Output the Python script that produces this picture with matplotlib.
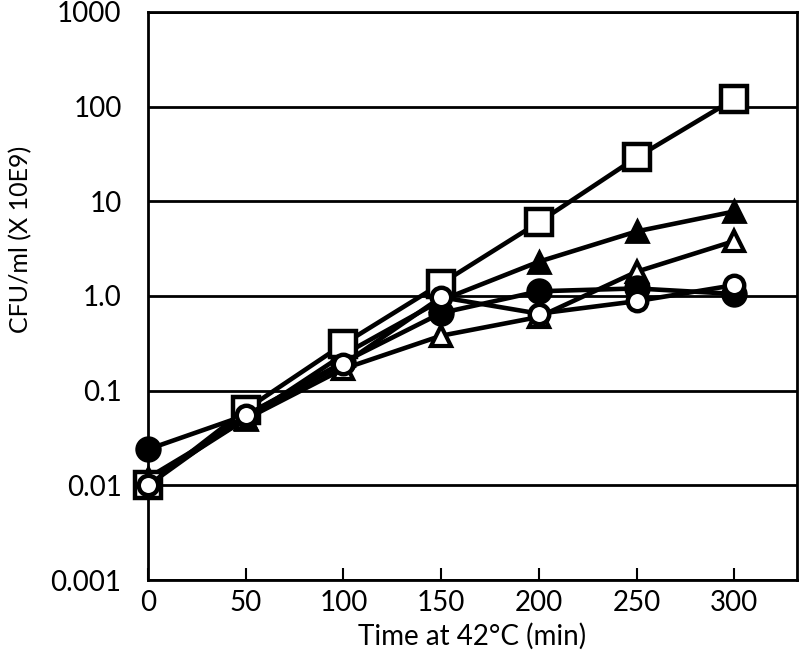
import matplotlib
matplotlib.use('Agg')
import matplotlib.pyplot as plt

plt.rcParams['font.family'] = ['Lato', 'DejaVu Sans']

time_min = [0, 50, 100, 150, 200, 250, 300]
tri_filled = [0.012, 0.05, 0.24, 0.9, 2.3, 4.8, 7.8]
tri_open = [0.011, 0.05, 0.17, 0.38, 0.6, 1.8, 3.8]
circ_filled = [0.024, 0.055, 0.2, 0.66, 1.12, 1.2, 1.05]
square_open = [0.01, 0.063, 0.31, 1.35, 6.0, 29, 120]
circ_open = [0.01, 0.055, 0.19, 0.97, 0.65, 0.88, 1.3]

y_ticks = [0.001, 0.01, 0.1, 1, 10, 100, 1000]
y_tick_labels = ['0.001', '0.01', '0.1', '1.0', '10', '100', '1000']
x_ticks = [0, 50, 100, 150, 200, 250, 300]

fig = plt.figure(figsize=(8, 6.58), dpi=100)
ax = fig.add_axes([0.185, 0.1185, 0.811, 0.8635])

lw = 3.3
ax.plot(time_min, tri_filled, '-^', color='black', lw=lw, ms=16,
        mfc='black', mec='black', mew=2, zorder=3, clip_on=False)
ax.plot(time_min, tri_open, '-^', color='black', lw=lw, ms=15,
        mfc='white', mec='black', mew=3, zorder=4, clip_on=False)
ax.plot(time_min, circ_filled, '-o', color='black', lw=lw, ms=17,
        mfc='black', mec='black', mew=2, zorder=5, clip_on=False)
ax.plot(time_min, square_open, '-s', color='black', lw=lw, ms=19,
        mfc='white', mec='black', mew=3.2, zorder=6, clip_on=False)
ax.plot(time_min, circ_open, '-o', color='black', lw=lw, ms=14,
        mfc='white', mec='black', mew=3.2, zorder=7, clip_on=False)

ax.set_yscale('log')
ax.set_ylim(0.001, 1000)
ax.set_xlim(0, 332)
ax.set_yticks(y_ticks)
ax.set_yticklabels(y_tick_labels)
ax.minorticks_off()
ax.set_xticks(x_ticks)

ax.yaxis.grid(True, color='black', lw=2)
ax.set_axisbelow(True)
for s in ax.spines.values():
    s.set_linewidth(2)
    s.set_color('black')

ax.tick_params(axis='y', length=0, labelsize=20, pad=19)
ax.tick_params(axis='x', direction='in', length=9, width=1.5, labelsize=20, pad=7)

ax.set_xlabel('Time at 42°C (min)', fontsize=20, labelpad=5)
ax.set_ylabel('CFU/ml (X 10E9)', fontsize=18)
ax.yaxis.set_label_coords(-0.179, 0.6)

fig.savefig('out.png', dpi=100)
